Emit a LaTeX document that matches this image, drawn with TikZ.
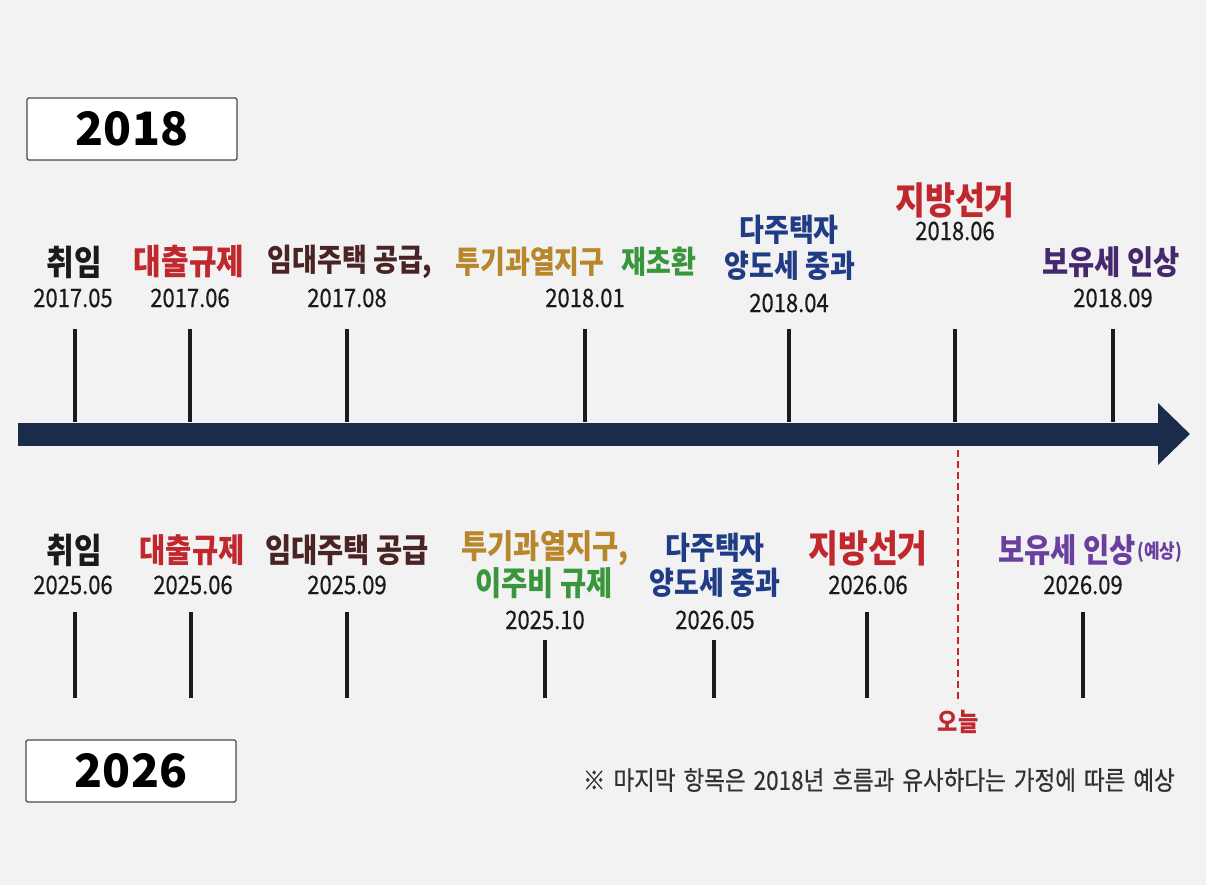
\documentclass[tikz,border=0pt]{standalone}
\usepackage{graphicx}
\usepackage{fontspec}
\setmainfont{Noto Sans CJK KR}
\newfontfamily\krmed{Noto Sans CJK KR}[FakeBold=0.5]
\newcommand{\tallt}[1]{\scalebox{1}[1.16]{#1}}
\newcommand{\wsp}{\hspace{8pt}}
\usetikzlibrary{arrows.meta}
\definecolor{bg}{HTML}{F2F2F2}
\definecolor{navy}{HTML}{1A2B4C}
\definecolor{cred}{HTML}{C0282D}
\definecolor{cbrown}{HTML}{4A2424}
\definecolor{cgold}{HTML}{B8862B}
\definecolor{cgreen}{HTML}{3A963C}
\definecolor{cblue}{HTML}{1F3C85}
\definecolor{cpurple}{HTML}{45286E}
\definecolor{cpurple2}{HTML}{6A3FA0}
\definecolor{ctext}{HTML}{1A1A1A}
\begin{document}
\begin{tikzpicture}[x=1pt,y=-1pt,
  lab/.style={font=\bfseries\fontsize{27}{30}\selectfont, inner sep=0pt, text=ctext},
  labL/.style={lab, font=\bfseries\fontsize{30}{33}\selectfont},
  labM/.style={lab, font=\bfseries\fontsize{28.5}{31}\selectfont},
  big/.style={font=\bfseries\fontsize{32.5}{36}\selectfont, inner sep=0pt, text=cred},
  dt/.style={font=\krmed\fontsize{22}{24}\selectfont, inner sep=0pt, text=ctext},
  tick/.style={line width=3.5pt, ctext},
  yearbox/.style={draw=ctext!80, line width=1.2pt, fill=white, rounded corners=1.5pt, minimum width=210pt, minimum height=62pt, font=\bfseries\fontsize{46}{50}\selectfont, text=black}]
\fill[bg] (0,0) rectangle (1206,885);
\useasboundingbox (0,0) rectangle (1206,885);

% year boxes
\node[yearbox] (y2018) at (132,129) {2018};
\node[yearbox] (y2026) at (131,771) {2026};

% main arrow
\coordinate (aL) at (18,434);
\coordinate (aR) at (1190,434);
\draw[navy, line width=23pt, -{Triangle[length=32pt,width=60pt]}] (aL) -- (aR);

% ---------- top (2018) ----------
\node[labL] (t1) at (74,262) {\tallt{취임}};
\node[dt] (t1d) at (73,298) {\tallt{2017.05}};
\node[labL, text=cred] (t2) at (189,262) {\tallt{대출규제}};
\node[dt] (t2d) at (190,298) {\tallt{2017.06}};
\node[lab, text=cbrown] (t3) at (350,262) {\tallt{임대주택 공급,}};
\node[dt] (t3d) at (347,298) {\tallt{2017.08}};
\node[lab, text=cgold] (t4) at (530,262) {\tallt{투기과열지구}};
\node[lab, text=cgreen] (t4b) at (659,262) {\tallt{재초환}};
\node[dt] (t4d) at (585,298) {\tallt{2018.01}};
\node[lab, text=cblue] (t5) at (789,230) {\tallt{다주택자}};
\node[lab, text=cblue] (t5b) at (790,266) {\tallt{양도세 중과}};
\node[dt] (t5d) at (789,303) {\tallt{2018.04}};
\node[big] (t6) at (955,200) {\tallt{지방선거}};
\node[dt] (t6d) at (955,231) {\tallt{2018.06}};
\node[labM, text=cpurple] (t7) at (1111,262) {\tallt{보유세 인상}};
\node[dt] (t7d) at (1113,298) {\tallt{2018.09}};

\foreach \x/\n in {75/a,190/b,347/c,585/d,789/e,955/f,1113/g}{
  \coordinate (tt\n) at (\x,329);
  \coordinate (tb\n) at (\x,422);
  \draw[tick] (tt\n) -- (tb\n);
}

% ---------- bottom (2026) ----------
\node[labL] (b1) at (74,550) {\tallt{취임}};
\node[dt] (b1d) at (73,585) {\tallt{2025.06}};
\node[labM, text=cred] (b2) at (192,550) {\tallt{대출규제}};
\node[dt] (b2d) at (193,585) {\tallt{2025.06}};
\node[labM, text=cbrown] (b3) at (347,550) {\tallt{임대주택 공급}};
\node[dt] (b3d) at (347,585) {\tallt{2025.09}};
\node[labM, text=cgold] (b4) at (545,548) {\tallt{투기과열지구,}};
\node[labM, text=cgreen] (b4b) at (544,583) {\tallt{이주비 규제}};
\node[dt] (b4d) at (545,620) {\tallt{2025.10}};
\node[lab, text=cblue] (b5) at (715,548) {\tallt{다주택자}};
\node[lab, text=cblue] (b5b) at (715,583) {\tallt{양도세 중과}};
\node[dt] (b5d) at (715,620) {\tallt{2026.05}};
\node[big] (b6) at (868,548) {\tallt{지방선거}};
\node[dt] (b6d) at (868,585) {\tallt{2026.06}};
\node[labM, text=cpurple2, anchor=east] (b7) at (1136,550) {\tallt{보유세 인상}};
\node[font=\bfseries\fontsize{17}{20}\selectfont, inner sep=0pt, text=cpurple2, anchor=west] (b7b) at ([xshift=1pt,yshift=-2pt]b7.east) {\tallt{(예상)}};
\node[dt] (b7d) at (1083,585) {\tallt{2026.09}};

\foreach \x/\n/\t in {75/a/612,191/b/612,347/c/612,545/d/640,714/e/640,867/f/612,1083/g/612}{
  \coordinate (bt\n) at (\x,\t);
  \coordinate (bb\n) at (\x,698);
  \draw[tick] (bt\n) -- (bb\n);
}

% today line
\coordinate (today0) at (958,450);
\node[font=\bfseries\fontsize{22}{24}\selectfont, inner sep=0pt, text=cred] (today) at (958,722) {\tallt{오늘}};
\draw[cred, line width=1.8pt, dash pattern=on 7pt off 4pt] (today0) -- (958,703);

% note
\node[font=\krmed\fontsize{22.5}{25}\selectfont, inner sep=0pt, text=ctext!90, anchor=east] (note) at (1175,780) {\tallt{※\wsp 마지막\wsp 항목은\wsp 2018년\wsp 흐름과\wsp 유사하다는\wsp 가정에\wsp 따른\wsp 예상}};
\end{tikzpicture}
\end{document}
